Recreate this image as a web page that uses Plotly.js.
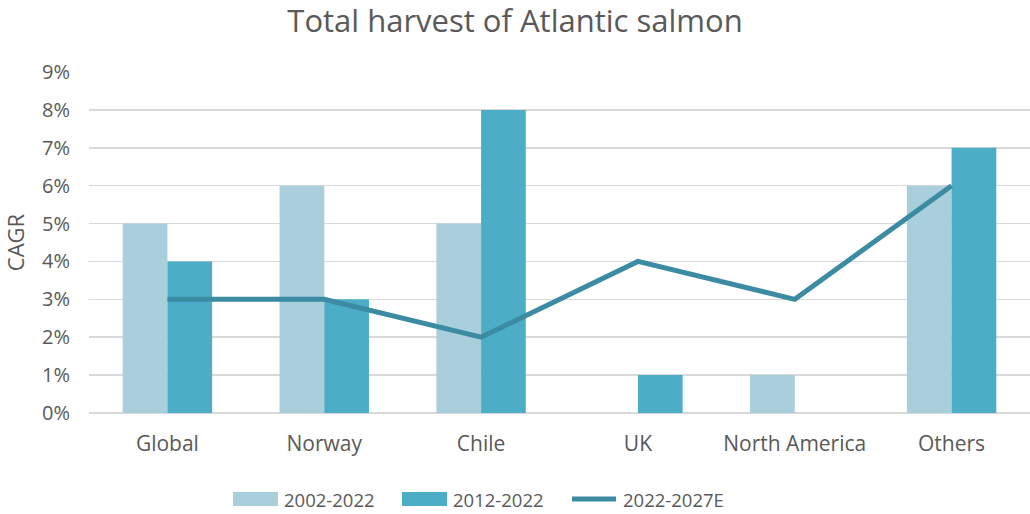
<!DOCTYPE html>
<html><head><meta charset="utf-8">
<script src="https://cdn.plot.ly/plotly-3.0.1.min.js"></script>
<style>html,body{margin:0;padding:0;background:#fff}#c{width:1030px;height:514px}</style>
</head><body><div id="c"></div>
<script>
var categories = ["Global", "Norway", "Chile", "UK", "North America", "Others"];
var seriesNames = ["2002-2022", "2012-2022", "2022-2027E"];
var cagr2002_2022 = [0.05, 0.06, 0.05, 0, 0.01, 0.06];
var cagr2012_2022 = [0.04, 0.03, 0.08, 0.01, 0, 0.07];
var cagr2022_2027E = [0.03, 0.03, 0.02, 0.04, 0.03, 0.06];
var yTicks = [0,0.01,0.02,0.03,0.04,0.05,0.06,0.07,0.08,0.09];

var font = "Open Sans, Liberation Sans, sans-serif";
var grey = "#595959";
var colors = ["#a9cfdd", "#4badc6", "#3b8ba2"];
var data = [
  {type:"bar", name:seriesNames[0], x:categories, y:cagr2002_2022, marker:{color:colors[0]}},
  {type:"bar", name:seriesNames[1], x:categories, y:cagr2012_2022, marker:{color:colors[1]}},
  {type:"scatter", mode:"lines", name:seriesNames[2], x:categories, y:cagr2022_2027E,
   line:{color:colors[2], width:5, shape:"linear"}}
];

// custom legend (paper coords, plot area: left 89, width 941, bottom 413, height 341)
function px(x){ return (x-89)/941; }
function py(y){ return (413-y)/341; }
var shapes = [
  {type:"rect", xref:"paper", yref:"paper", x0:px(233), x1:px(278), y0:py(506), y1:py(492), fillcolor:colors[0], line:{width:0}},
  {type:"rect", xref:"paper", yref:"paper", x0:px(402), x1:px(447), y0:py(506), y1:py(492), fillcolor:colors[1], line:{width:0}},
  {type:"line", xref:"paper", yref:"paper", x0:px(572), x1:px(616), y0:py(499), y1:py(499), line:{color:colors[2], width:5}}
];
var annotations = [
  {xref:"paper", yref:"paper", x:px(282), y:py(499), xanchor:"left", yanchor:"middle", text:seriesNames[0], showarrow:false, font:{size:18.5, color:grey}},
  {xref:"paper", yref:"paper", x:px(451), y:py(499), xanchor:"left", yanchor:"middle", text:seriesNames[1], showarrow:false, font:{size:18.5, color:grey}},
  {xref:"paper", yref:"paper", x:px(621), y:py(499), xanchor:"left", yanchor:"middle", text:seriesNames[2], showarrow:false, font:{size:18.5, color:grey}}
];

var layout = {
  width:1030, height:514,
  margin:{l:89, r:0, t:72, b:101},
  paper_bgcolor:"#fff", plot_bgcolor:"#fff",
  font:{family:font, color:grey, size:18},
  title:{text:"Total harvest of Atlantic salmon", x:0.5, xanchor:"center", y:0.959, yanchor:"middle",
         font:{size:31, color:grey, family:font}},
  barmode:"group", bargap:0.43, bargroupgap:0,
  xaxis:{type:"category", showgrid:false, zeroline:false, showline:false, ticks:"",
         tickfont:{size:21, color:grey}, ticklabelstandoff:16},
  yaxis:{range:[0,0.09], tickvals:yTicks, tickformat:".0%", showgrid:true, gridcolor:"#d9d9d9", gridwidth:1.5,
         zeroline:true, zerolinecolor:"#d9d9d9", zerolinewidth:1.5, ticks:"", ticklen:0,
         tickfont:{size:20, color:grey}, ticklabelstandoff:18,
         title:{text:"CAGR", font:{size:22, color:grey}, standoff:14}},
  showlegend:false,
  shapes:shapes, annotations:annotations
};
Plotly.newPlot("c", data, layout, {displayModeBar:false, staticPlot:true});
</script></body></html>
